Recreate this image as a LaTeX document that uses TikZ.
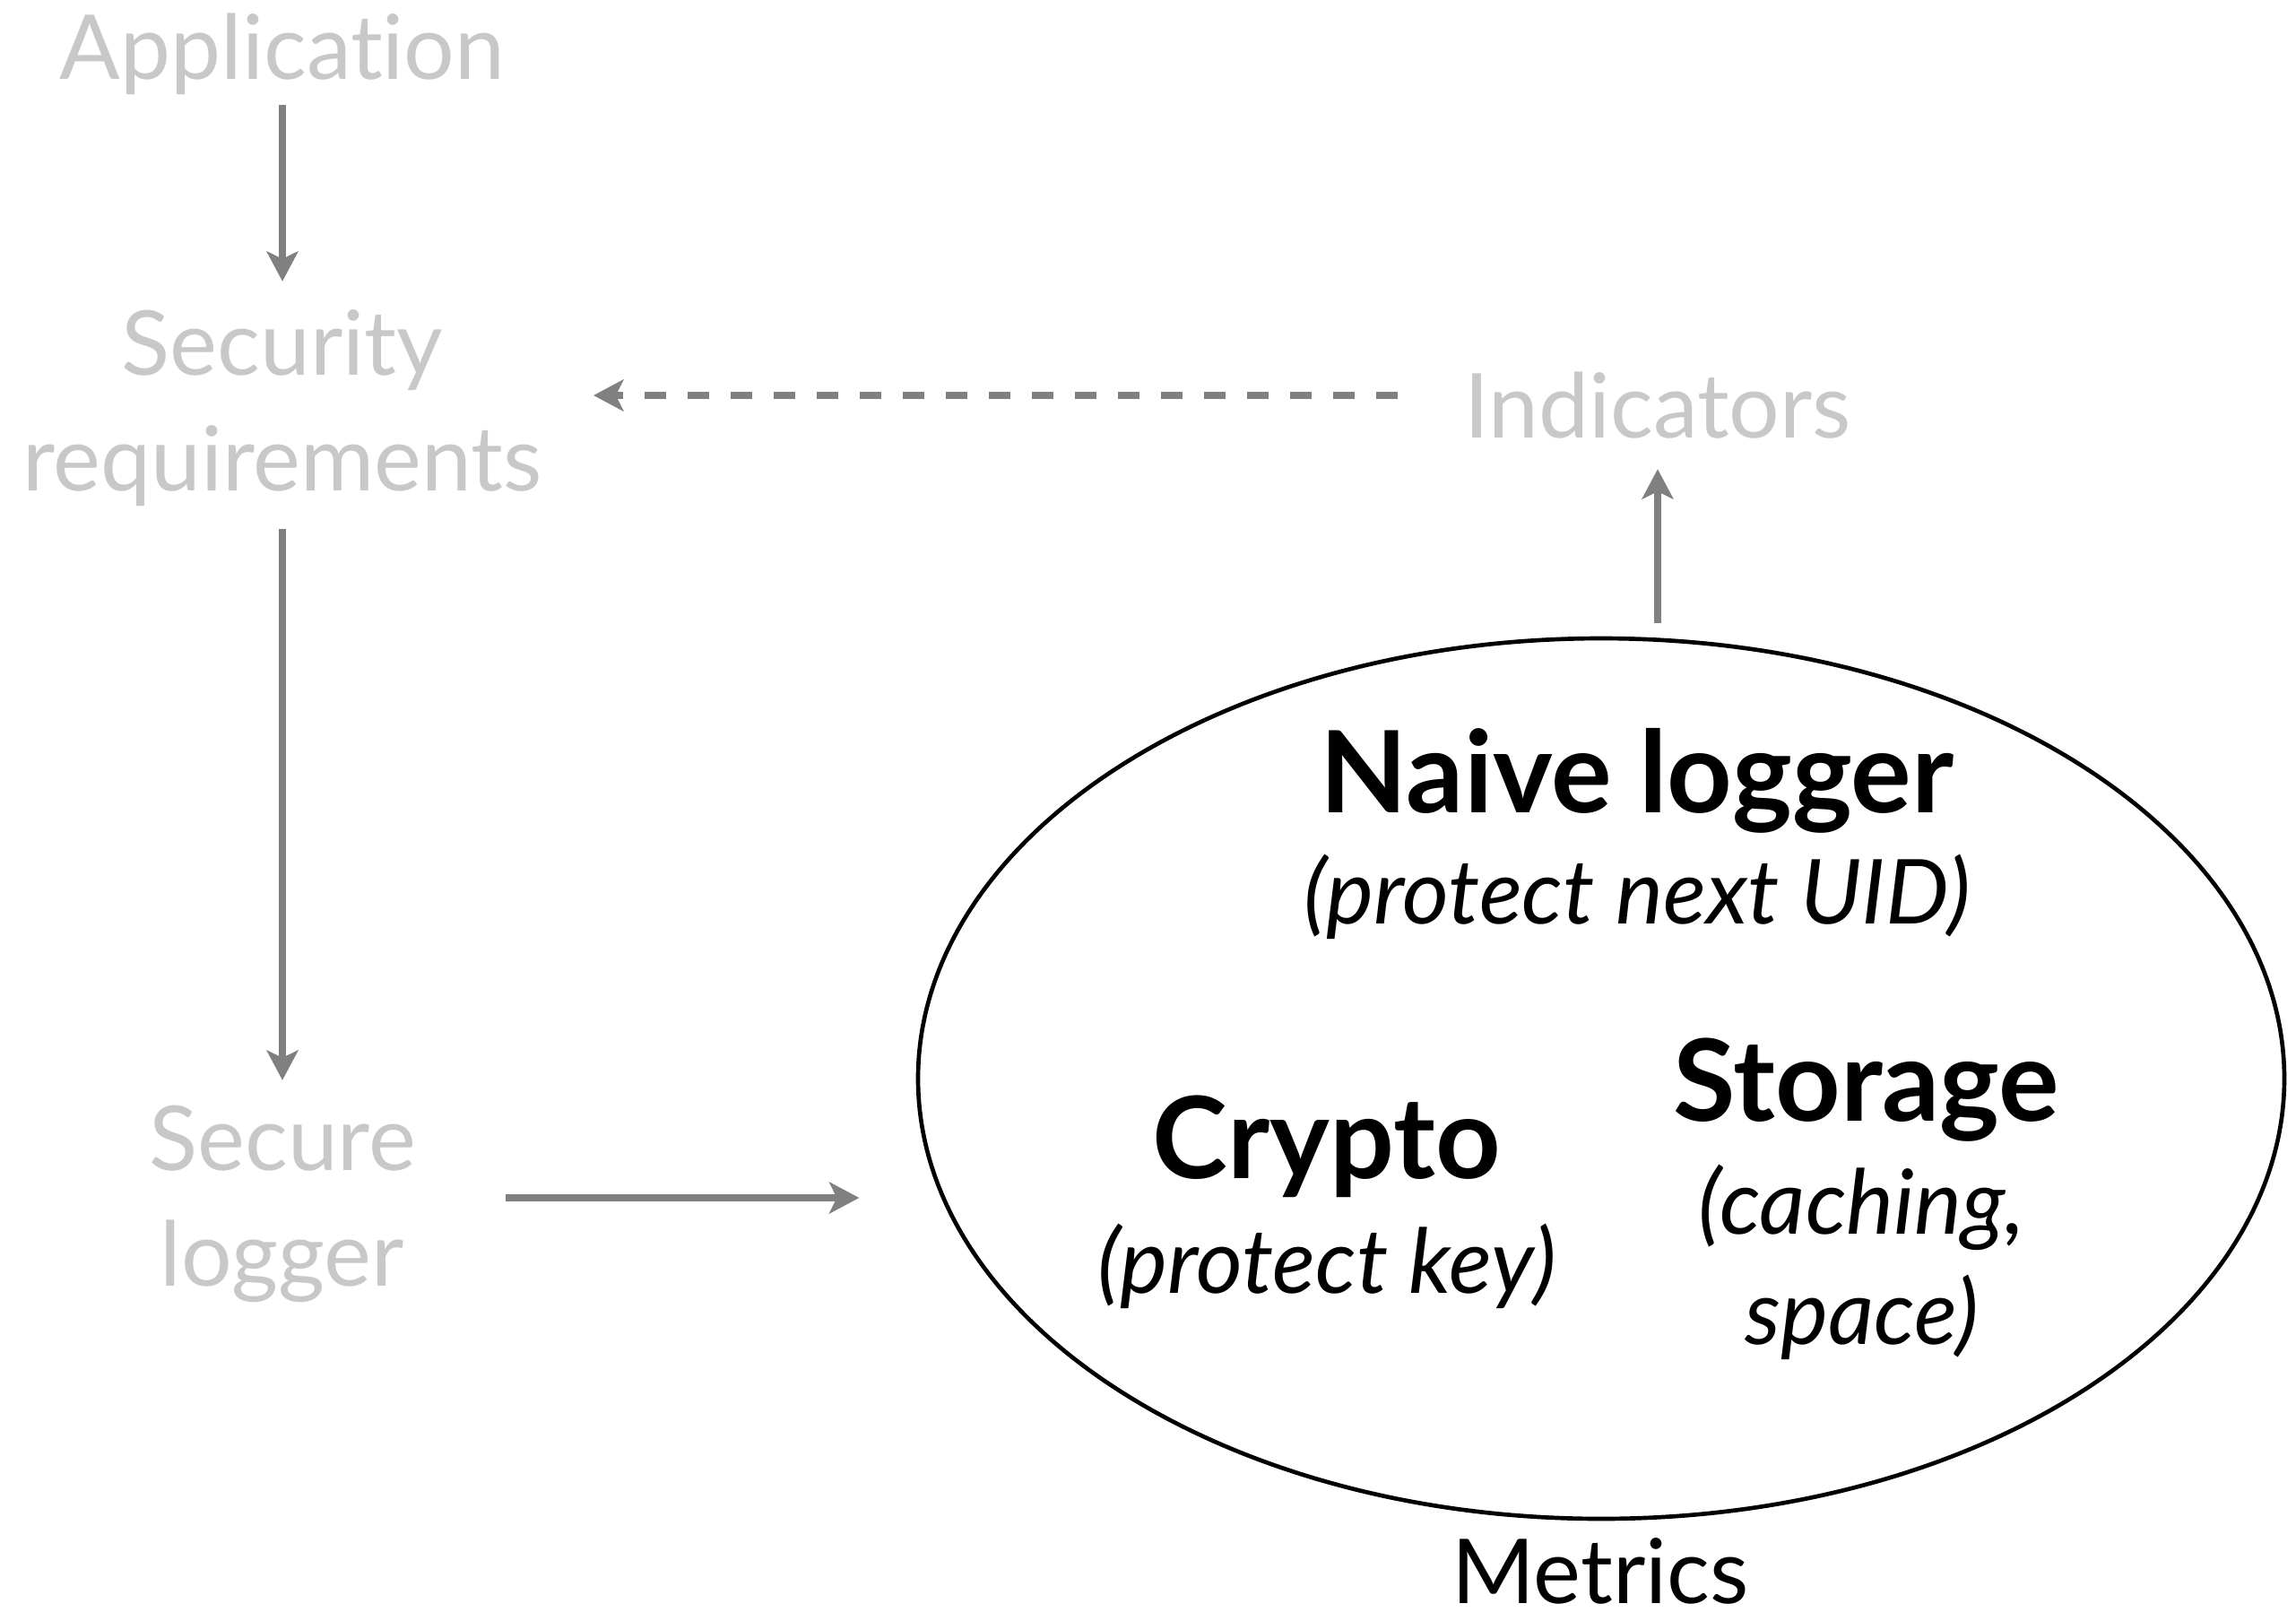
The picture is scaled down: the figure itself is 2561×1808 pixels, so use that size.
\documentclass[tikz,border=0pt]{standalone}
\usepackage{fontspec}
\setmainfont{Lato}[Ligatures=NoCommon]
\usetikzlibrary{arrows.meta,shapes.geometric}
\definecolor{faded}{RGB}{200,200,200}
\definecolor{arrowgray}{RGB}{128,128,128}
\begin{document}
\begin{tikzpicture}[x=0.3pt,y=-0.3pt,
  stage/.style={text=faded, font=\fontsize{30}{38.7}\selectfont, align=center, inner sep=0pt},
  part/.style={font=\bfseries\fontsize{38}{44}\selectfont, inner sep=0pt},
  note/.style={font=\itshape\fontsize{30}{37}\selectfont, align=center, inner sep=0pt},
  flow/.style={draw=arrowgray, line width=2.4pt,
    -{Stealth[length=10pt, width=10.5pt, inset=2.5pt]}},
  feedback/.style={flow, dash pattern=on 7.2pt off 7.2pt}]
\useasboundingbox (0,0) rectangle (2561,1808);

% pipeline on the left
\node[stage] (app)  at (315,60)   {Application};
\node[stage] (sec)  at (315,455)  {Security\\requirements};
\node[stage] (slog) at (315,1343) {Secure\\logger};
\node[stage] (ind)  at (1849,452) {Indicators};

% the components of the logger
\node[draw, ellipse, line width=1.4pt, minimum width=457.2pt, minimum height=294.6pt, inner sep=0pt] (sys) at (1786,1203) {};
\node[part] (naive) at (1826,871) {Naive logger};
\node[note] (pnext) at (1826,1000) {(protect next UID)};
\node[part] (crypto) at (1480,1279) {Crypto};
\node[note] (pkey) at (1480,1412) {(protect key)};
\node[part] (store) at (2082,1216) {Storage};
\node[note] (cache) at (2077,1408) {(caching,\\space)};
\node[font=\fontsize{30}{36}\selectfont, inner sep=0pt] (metrics) at (1785,1752) {Metrics};

% connectors
\draw[flow, shorten <=3.4pt, shorten >=9.3pt] (app.south) -- (sec.north);
\draw[flow, shorten <=7.3pt, shorten >=8.3pt] (sec.south) -- (slog.north);
\draw[flow, shorten <=30pt, shorten >=19pt]
  ([yshift=2.1pt]slog.east) -- ([yshift=2.1pt]slog.east -| sys.west);
\draw[flow, shorten <=4.5pt, shorten >=10pt] (ind.south |- sys.north) -- (ind.south);
\draw[feedback, shorten <=22pt, shorten >=17pt]
  ([yshift=3.3pt]ind.west) -- ([yshift=3.3pt]ind.west -| sec.east);
\end{tikzpicture}
\end{document}
